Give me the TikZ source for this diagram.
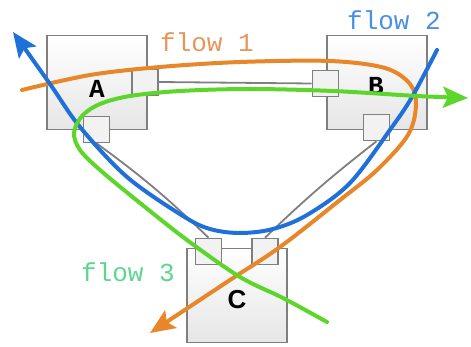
\documentclass[tikz,border=0pt]{standalone}
\usepackage{fontspec}
\setmainfont{Liberation Sans}
\newfontfamily\flowfont{Liberation Mono}
\usetikzlibrary{arrows.meta,positioning}
\definecolor{Frame}{HTML}{7F7F7F}
\definecolor{Light}{HTML}{F2F2F2}
\definecolor{Shade}{HTML}{E6E6E6}
\definecolor{Orange}{HTML}{E8862A}
\definecolor{Blue}{HTML}{1F70D8}
\definecolor{Green}{HTML}{5CD62A}
\definecolor{OrangeTxt}{HTML}{E8955A}
\definecolor{BlueTxt}{HTML}{4A8FE6}
\definecolor{GreenTxt}{HTML}{5ED690}

\begin{document}
\begin{tikzpicture}[x=1pt,y=-1pt,
    host/.style={draw=Frame,line width=1.8pt,top color=white,bottom color=Shade,
      minimum width=100pt,minimum height=94pt,inner sep=0pt},
    port/.style={draw=Frame,line width=1.6pt,fill=Light,minimum size=26pt,inner sep=0pt},
    link/.style={Frame,line width=1.8pt},
    hostlbl/.style={font=\fontsize{26}{26}\selectfont\bfseries,inner sep=0pt},
    monolbl/.style={font=\flowfont\fontsize{26}{26}\selectfont\bfseries,inner sep=0pt},
    flowlbl/.style={font=\flowfont\fontsize{26}{26}\selectfont,inner sep=0pt},
    flow/.style={line width=4pt,line cap=round,
      -{Stealth[length=25pt,width=21pt,inset=5pt]}}
  ]
    \useasboundingbox (0,0) rectangle (471,347);
    \node[host] (A) at (97,82.5) {};
    \node[host] (B) at (377,82.5) {};
    \node[host] (C) at (237,295.5) {};
    \node[monolbl] (labA) at (97,89) {A};
    \node[monolbl] (labB) at (376,86) {B};
    \node[hostlbl] (labC) at (237,300) {C};
    \node[port] (aR) at (145,82) {};
    \node[port] (aB) at (96.5,129.5) {};
    \node[port] (bL) at (325.5,83.5) {};
    \node[port] (bB) at (376.5,127.5) {};
    \node[port] (cL) at (208.5,251.5) {};
    \node[port] (cR) at (265,251.5) {};
    \draw[link] (aR.east) -- (bL.west);
    \draw[link] (aB.south) to[bend left=4] (cL.north);
    \draw[link] (bB.south) to[bend right=3] (cR.north);
    \draw[flow,Orange] plot[smooth,tension=0.55] coordinates {(22,90) (90,75) (160,67)
      (240,62) (330,61) (385,68) (410,84) (416,105) (408,135) (377,170) (340,200)
      (280,247) (230,280) (150,333)};
    \draw[flow,Blue] plot[smooth,tension=0.55] coordinates {(437,50) (412,97) (392,127)
      (350,183) (307,215) (273,229) (240,233) (210,229) (183,216) (127,177) (80,127)
      (50,84) (13,32)};
    \draw[flow,Green] plot[smooth,tension=0.55] coordinates {(327,322) (283,298) (240,277)
      (187,240) (140,203) (100,170) (80,150) (74,133) (82,116) (100,104) (130,96)
      (180,91) (250,89) (333,91) (417,96) (468,98)};
    \node[flowlbl,OrangeTxt] (t1) at (207,42) {flow 1};
    \node[flowlbl,BlueTxt] (t2) at (394,20) {flow 2};
    \node[flowlbl,GreenTxt] (t3) at (128,272) {flow 3};
\end{tikzpicture}
\end{document}
